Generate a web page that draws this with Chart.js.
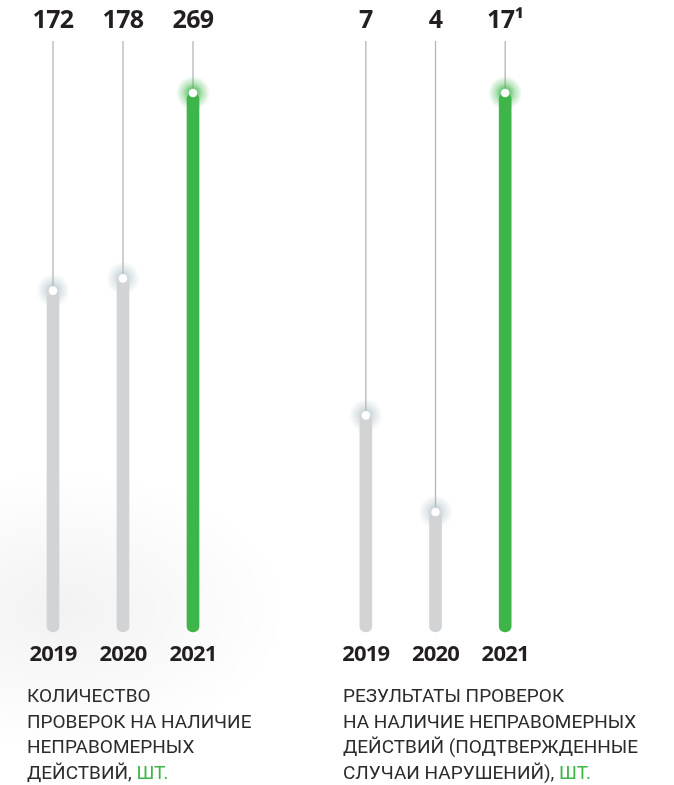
<!DOCTYPE html>
<html lang="ru">
<head>
<meta charset="utf-8">
<script src="https://cdn.jsdelivr.net/npm/chart.js@4.4.1/dist/chart.umd.min.js"></script>
<style>
  html, body { margin: 0; padding: 0; background: #fff; }
  #wrap {
    position: relative; width: 674px; height: 785px; overflow: hidden;
    background: radial-gradient(ellipse 230px 140px at 60px 610px, rgba(0,0,0,0.05), rgba(0,0,0,0) 100%), #fff;
  }
  canvas { position: absolute; top: 0; }
  #chartLeft { left: 0; }
  #chartRight { left: 300px; }
  .caption {
    position: absolute; top: 683px;
    font-family: Roboto, "Noto Sans", sans-serif; font-size: 19px; line-height: 25.5px;
    color: #2b2b2b; white-space: nowrap;
  }
  .caption .unit { color: #3db549; }
</style>
</head>
<body>
<div id="wrap">
  <canvas id="chartLeft" width="300" height="700"></canvas>
  <canvas id="chartRight" width="374" height="700"></canvas>
  <div class="caption" style="left:27px">КОЛИЧЕСТВО<br>ПРОВЕРОК НА НАЛИЧИЕ<br>НЕПРАВОМЕРНЫХ<br>ДЕЙСТВИЙ, <span class="unit">ШТ.</span></div>
  <div class="caption" style="left:343px">РЕЗУЛЬТАТЫ ПРОВЕРОК<br>НА НАЛИЧИЕ НЕПРАВОМЕРНЫХ<br>ДЕЙСТВИЙ (ПОДТВЕРЖДЕННЫЕ<br>СЛУЧАИ НАРУШЕНИЙ), <span class="unit">ШТ.</span></div>
</div>
<script>
const years = ['2019', '2020', '2021'];
const checksCount = [172, 178, 269];
const checksLabels = ['172', '178', '269'];
const violationsCount = [7, 4, 17];
const violationsLabels = ['7', '4', '17¹'];

const GRAY = '#d1d3d4';
const GREEN = '#3db549';
const barColors = [GRAY, GRAY, GREEN];

// lineas finas, brillo y punto blanco encima de cada barra
const lollipopPlugin = {
  id: 'lollipop',
  beforeDatasetsDraw(chart) {
    const ctx = chart.ctx;
    const meta = chart.getDatasetMeta(0);
    ctx.save();
    meta.data.forEach((bar, i) => {
      ctx.strokeStyle = '#b5b5b5';
      ctx.lineWidth = 1.3;
      ctx.beginPath();
      ctx.moveTo(bar.x, 41);
      ctx.lineTo(bar.x, bar.y);
      ctx.stroke();

      const g = ctx.createRadialGradient(bar.x, bar.y, 3, bar.x, bar.y, 17);
      if (i === 2) {
        g.addColorStop(0, 'rgba(61,181,73,0.85)');
        g.addColorStop(0.5, 'rgba(61,181,73,0.35)');
        g.addColorStop(1, 'rgba(61,181,73,0)');
      } else {
        g.addColorStop(0, 'rgba(170,188,195,0.7)');
        g.addColorStop(0.5, 'rgba(170,188,195,0.3)');
        g.addColorStop(1, 'rgba(170,188,195,0)');
      }
      ctx.fillStyle = g;
      ctx.beginPath();
      ctx.arc(bar.x, bar.y, 17, 0, Math.PI * 2);
      ctx.fill();
    });
    ctx.restore();
  },
  afterDatasetsDraw(chart, args, opts) {
    const ctx = chart.ctx;
    const meta = chart.getDatasetMeta(0);
    const xScale = chart.scales.x;
    ctx.save();
    meta.data.forEach((bar, i) => {
      ctx.fillStyle = '#fff';
      ctx.beginPath();
      ctx.arc(bar.x, bar.y, 4.3, 0, Math.PI * 2);
      ctx.fill();

      ctx.fillStyle = '#231f20';
      ctx.textAlign = 'center';
      ctx.textBaseline = 'middle';
      ctx.letterSpacing = '-0.6px';
      ctx.font = 'bold 25px "Open Sans", sans-serif';
      ctx.fillText(opts.labels[i], bar.x, 21);

      ctx.letterSpacing = '-0.8px';
      ctx.font = 'bold 22px "Open Sans", sans-serif';
      ctx.fillText(years[i], xScale.getPixelForTick(i), 655);
    });
    ctx.restore();
  }
};

function makeChart(id, values, labels, padLeft, padRight) {
  const max = Math.max(...values);
  return new Chart(document.getElementById(id), {
    type: 'bar',
    data: {
      labels: years,
      datasets: [{
        data: values,
        backgroundColor: barColors,
        barThickness: 12,
        borderRadius: 6,
        borderSkipped: false,
        base: max * 9 / 548 // las barras terminan un poco por encima del cero
      }]
    },
    options: {
      responsive: false,
      animation: false,
      devicePixelRatio: 1,
      layout: { padding: { top: 93, bottom: 59, left: padLeft, right: padRight } },
      scales: {
        x: { display: false },
        y: { display: false, min: 0, max: max }
      },
      plugins: {
        legend: { display: false },
        tooltip: { enabled: false },
        lollipop: { labels: labels }
      }
    },
    plugins: [lollipopPlugin]
  });
}

makeChart('chartLeft', checksCount, checksLabels, 18, 72);
makeChart('chartRight', violationsCount, violationsLabels, 31, 134);
</script>
</body>
</html>
